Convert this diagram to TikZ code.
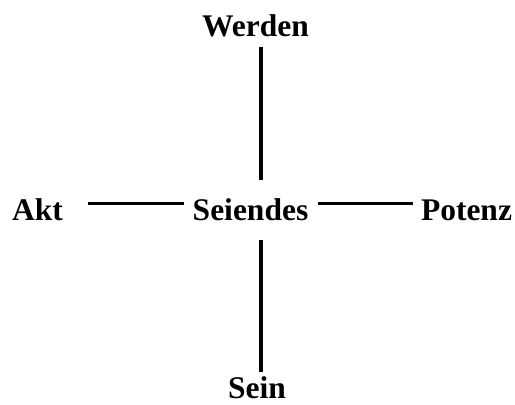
\documentclass[tikz,border=0pt]{standalone}
\usepackage{fontspec}
\setmainfont{Liberation Serif}
\begin{document}
\begin{tikzpicture}[x=1pt,y=-1pt,
  lbl/.style={anchor=base,inner sep=0pt,font=\fontsize{31.5}{36}\selectfont\bfseries},
  bar/.style={line width=3.4pt}]
\useasboundingbox (0,0) rectangle (515,405);
\node[lbl] (werden) at (255.5,36) {Werden};
\node[lbl] (seiendes) at (250.5,220) {Seiendes};
\node[lbl] (akt) at (37.5,220) {Akt};
\node[lbl] (potenz) at (466.5,220) {Potenz};
\node[lbl] (sein) at (257,398) {Sein};
\coordinate (t1) at (261,47);
\coordinate (t2) at (261,180);
\coordinate (b1) at (261,240);
\coordinate (b2) at (261,372);
\coordinate (l1) at (88,203.5);
\coordinate (l2) at (184,203.5);
\coordinate (r1) at (318,203.5);
\coordinate (r2) at (413,203.5);
\draw[bar] (t1) -- (t2);
\draw[bar] (b1) -- (b2);
\draw[bar] (l1) -- (l2);
\draw[bar] (r1) -- (r2);
\end{tikzpicture}
\end{document}
